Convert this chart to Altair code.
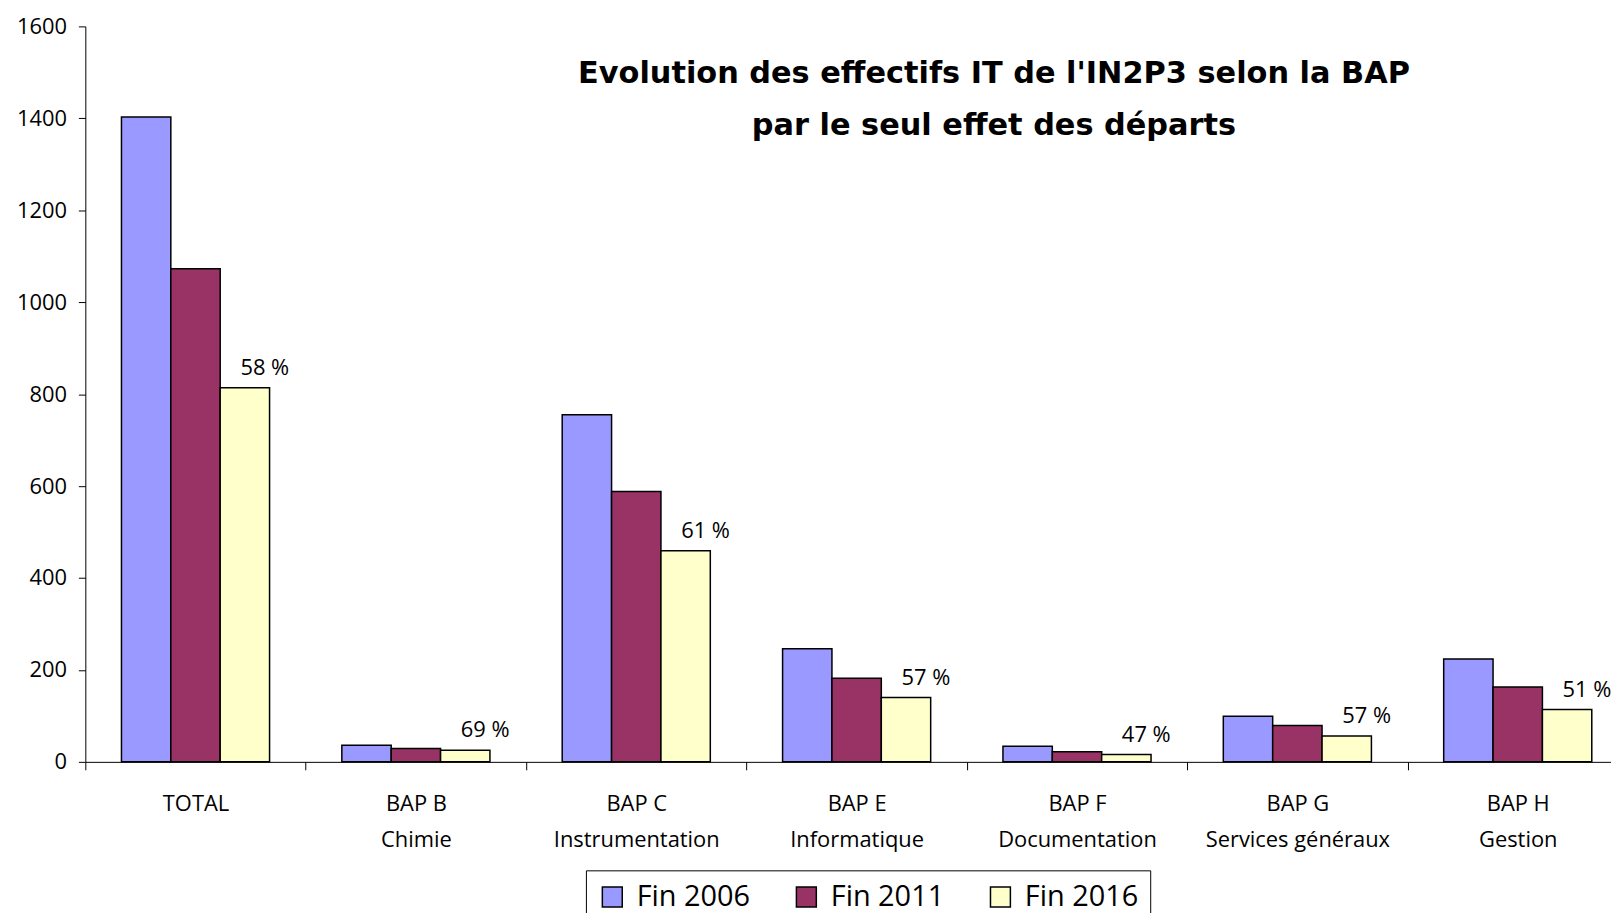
import altair as alt
import pandas as pd

# ---- data ----
categories = ["TOTAL", "BAP B|Chimie", "BAP C|Instrumentation", "BAP E|Informatique",
              "BAP F|Documentation", "BAP G|Services généraux", "BAP H|Gestion"]
series = ["Fin 2006", "Fin 2011", "Fin 2016"]
fin2006 = [1403, 36, 755, 246, 34, 99, 224]
fin2011 = [1073, 29, 588, 182, 22, 79, 163]
fin2016 = [814, 25, 459, 140, 16, 56, 114]
pct_labels = ["58 %", "69 %", "61 %", "57 %", "47 %", "57 %", "51 %"]
y_ticks = [0, 200, 400, 600, 800, 1000, 1200, 1400, 1600]
colors = ["#9999FF", "#993366", "#FFFFCC"]
title_lines = ["Evolution des effectifs IT de l'IN2P3 selon la BAP",
               "par le seul effet des départs"]

FONT = "Comic Sans MS, Open Sans"
TITLE_FONT = "Comic Sans MS, DejaVu Sans"

rows = []
for s, vals in zip(series, [fin2006, fin2011, fin2016]):
    for c, v in zip(categories, vals):
        rows.append({"cat": c, "series": s, "value": v})
df = pd.DataFrame(rows)

pct_df = pd.DataFrame({"cat": categories, "series": ["Fin 2016"] * len(categories),
                       "value": fin2016, "label": pct_labels})
title_df = pd.DataFrame({"k": [0]})

x_enc = alt.X(
    "cat:N", sort=categories,
    scale=alt.Scale(domain=categories, range=[0, 1550], paddingInner=0, paddingOuter=0),
    axis=alt.Axis(title=None, labelAngle=0, labelExpr="split(datum.label, '|')",
                  tickBand="extent", tickSize=8, tickColor="#000000",
                  domainColor="#000000", labelPadding=24, labelLineHeight=36,
                  labelFontSize=22, labelFont=FONT, labelColor="#000000",
                  labelLimit=0, grid=False, labelBaseline="top"),
)
xoff_enc = alt.XOffset("series:N", sort=series,
                       scale=alt.Scale(domain=series, paddingInner=0, paddingOuter=0.732))
y_enc = alt.Y(
    "value:Q",
    scale=alt.Scale(domain=[0, 1600], nice=False),
    axis=alt.Axis(title=None, values=y_ticks, format="d", grid=False, tickSize=7,
                  tickColor="#000000", domainColor="#000000", labelPadding=12,
                  labelFontSize=22, labelFont=FONT, labelColor="#000000"),
)

bars = alt.Chart(df).mark_bar(stroke="#000000", strokeWidth=1.5).encode(
    x=x_enc, xOffset=xoff_enc, y=y_enc,
    color=alt.Color("series:N", sort=series,
                    scale=alt.Scale(domain=series, range=colors),
                    legend=alt.Legend(title=None, orient="none", direction="horizontal",
                                      legendX=503, legendY=848,
                                      strokeColor="#000000", padding=12,
                                      symbolType="square", symbolSize=400,
                                      symbolStrokeColor="#000000", symbolStrokeWidth=1.5,
                                      labelFontSize=29, labelFont=FONT, labelColor="#000000",
                                      labelOffset=10, columnPadding=42)),
)

pct = alt.Chart(pct_df).mark_text(
    font=FONT, fontSize=22, color="#000000", dx=20, dy=-13, baseline="alphabetic", align="center"
).encode(x=alt.X("cat:N", sort=categories), xOffset=alt.XOffset("series:N", sort=series),
         y="value:Q", text="label:N")

title = alt.Chart(title_df).mark_text(
    font=TITLE_FONT, fontSize=30.5, fontWeight="bold", color="#000000", align="center",
    baseline="alphabetic", lineHeight=52
).encode(x=alt.value(913), y=alt.value(57), text=alt.value(title_lines))

chart = alt.layer(bars, pct, title).properties(
    width=1533, height=739,
    autosize=alt.AutoSizeParams(type="none"),
    padding={"left": 77.7, "top": 16.3, "right": 0, "bottom": 150},
).configure_view(stroke=None)

chart.save("out.html", embed_options={"renderer": "svg", "actions": False})
